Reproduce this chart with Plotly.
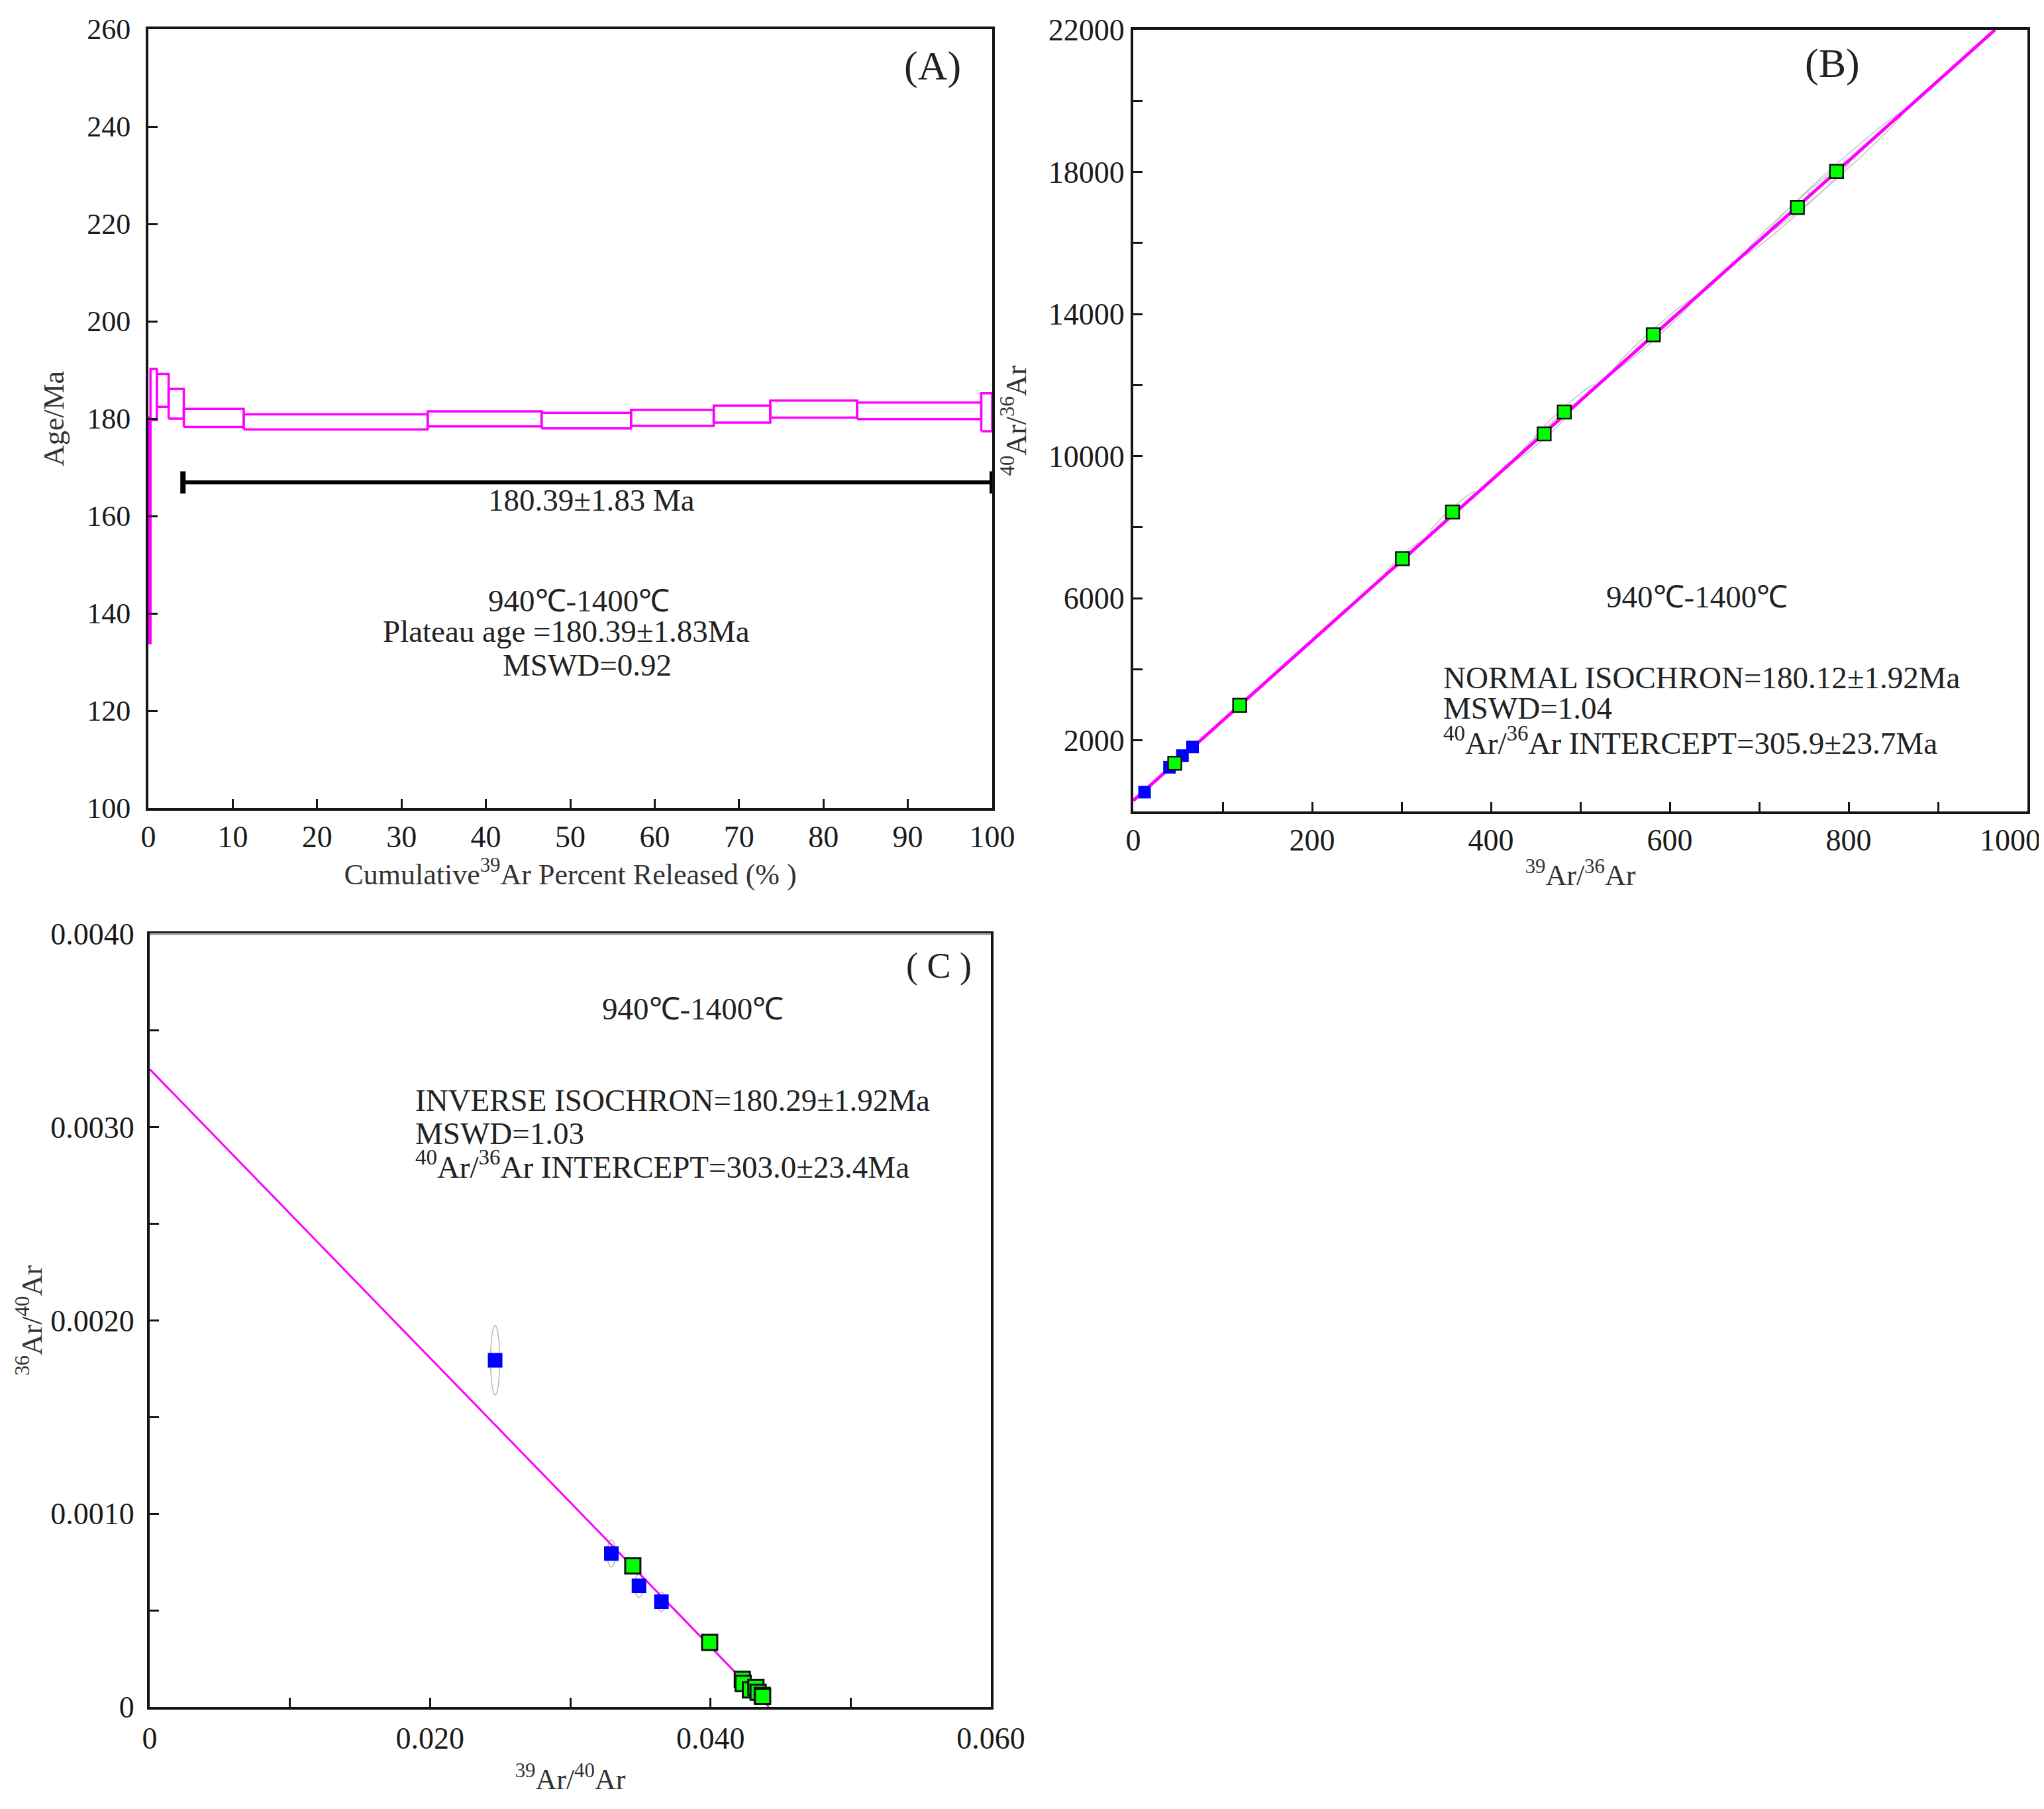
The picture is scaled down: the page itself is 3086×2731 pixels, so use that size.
import numpy as np
import plotly.graph_objects as go

## figure size, in the reference pixels ##
W = 3086
H = 2731
SERIF = "Liberation Serif"
MAGENTA = "#FF00FF"

## (A) age spectrum: cumulative 39Ar released (%) and 1-sigma age band (Ma) ##
step_start = [0, 0.25, 1.0, 2.4, 4.2, 11.3, 33.1, 46.6, 57.2, 67.0, 73.7, 84.0, 98.7]
step_end = [0.25, 1.0, 2.4, 4.2, 11.3, 33.1, 46.6, 57.2, 67.0, 73.7, 84.0, 98.7, 100]
age_low = [133.9, 179.7, 182.4, 180.0, 178.3, 177.8, 178.4, 178.0, 178.5, 179.2, 180.2, 179.9, 177.4]
age_high = [180.2, 190.2, 189.2, 186.1, 182.0, 180.9, 181.5, 181.2, 181.8, 182.7, 183.7, 183.3, 185.2]
plateau_x = [4.1, 100]
plateau_y = [166.9, 166.9]
a_xticks = [0, 10, 20, 30, 40, 50, 60, 70, 80, 90, 100]
a_yticks = [100, 120, 140, 160, 180, 200, 220, 240, 260]

## (B) normal isochron: 39Ar/36Ar vs 40Ar/36Ar ##
b_green_x = [46.4, 119, 301, 357, 459.5, 482, 581.6, 742.7, 786.5]
b_green_y = [1357, 2986, 7114, 8429, 10629, 11243, 13414, 17000, 18014]
b_blue_x = [12.6, 40.5, 55, 66.3]
b_blue_y = [543, 1243, 1571, 1814]
b_ell_rx = [5, 9, 20, 25, 32, 34, 45, 60, 75]          # error ellipse half width (x)
b_ell_ry = [60, 80, 110, 120, 140, 140, 160, 190, 210]  # error ellipse thickness (y)
b_intercept = 305.9
b_slope = 22.51
b_xticks = [0, 100, 200, 300, 400, 500, 600, 700, 800, 900, 1000]
b_xtext = ["0", "", "200", "", "400", "", "600", "", "800", "", ""]
b_last_xlabel = "1000"   # sits pulled in from the figure edge, drawn separately
b_yticks = [2000, 4000, 6000, 8000, 10000, 12000, 14000, 16000, 18000, 20000, 22000]
b_ytext = ["2000", "", "6000", "", "10000", "", "14000", "", "18000", "", "22000"]

## (C) inverse isochron: 39Ar/40Ar vs 36Ar/40Ar ##
c_blue_x = [0.02464, 0.03293, 0.0349, 0.0365]
c_blue_y = [0.001794, 0.000794, 0.000627, 0.000545]
c_blue_rx = [0.00033, 0.0003, 0.0003, 0.0003]
c_blue_ry = [0.00018, 0.00007, 0.00006, 0.00005]
c_green_x = [0.03446, 0.03994, 0.04227, 0.04233, 0.04285, 0.04324, 0.04340, 0.04369, 0.04372]
c_green_y = [0.000730, 0.000334, 0.000143, 0.000122, 0.000088, 0.000100, 0.000076, 0.000060, 0.000055]
c_y_intercept = 1 / 303.0
c_x_intercept = 0.04417
c_xticks = [0, 0.01, 0.02, 0.03, 0.04, 0.05, 0.06]
c_xtext = ["0", "", "0.020", "", "0.040", "", "0.060"]
c_yticks = [0, 0.0005, 0.001, 0.0015, 0.002, 0.0025, 0.003, 0.0035, 0.004]
c_ytext = ["0", "", "0.0010", "", "0.0020", "", "0.0030", "", "0.0040"]


def ellipse(cx, cy, rx, ry, k=0.0):
    t = np.linspace(0, 2 * np.pi, 80)
    return cx + rx * np.cos(t), cy + k * rx * np.cos(t) + ry * np.sin(t)


def dom(a, b, total, flip=False):
    if flip:
        return [1 - b / total, 1 - a / total]
    return [a / total, b / total]


def axis_style(tick_size=46, **kw):
    d = dict(showline=True, linecolor="#151515", linewidth=4, mirror=True,
             ticks="inside", ticklen=14, tickwidth=3, tickcolor="#151515",
             showgrid=False, zeroline=False, automargin=False,
             tickfont=dict(family=SERIF, size=tick_size, color="#1a1a1a"),
             title_font=dict(family=SERIF, size=44, color="#333333"))
    d.update(kw)
    return d


fig = go.Figure()

## panel A ##
for x0, x1, lo, hi in zip(step_start, step_end, age_low, age_high):
    fig.add_trace(go.Scatter(x=[x0, x1, x1, x0, x0], y=[lo, lo, hi, hi, lo], mode="lines",
                             line=dict(color=MAGENTA, width=3.5), xaxis="x", yaxis="y"))
fig.add_trace(go.Scatter(x=plateau_x, y=plateau_y, mode="lines+markers",
                         line=dict(color="black", width=6),
                         marker=dict(symbol="line-ns", size=24, line=dict(color="black", width=8)),
                         xaxis="x", yaxis="y"))

## panel B ##
for cx, cy, rx, ry in zip(b_green_x, b_green_y, b_ell_rx, b_ell_ry):
    ex, ey = ellipse(cx, cy, rx, ry, b_slope * 0.99)
    fig.add_trace(go.Scatter(x=ex, y=ey, mode="lines", line=dict(color="#c4c4c4", width=1.5),
                             xaxis="x2", yaxis="y2"))
b_line_x = [0, (22000 - b_intercept) / b_slope]
fig.add_trace(go.Scatter(x=b_line_x, y=[b_intercept + b_slope * v for v in b_line_x], mode="lines",
                         line=dict(color=MAGENTA, width=5), xaxis="x2", yaxis="y2"))
fig.add_trace(go.Scatter(x=b_blue_x, y=b_blue_y, mode="markers",
                         marker=dict(symbol="square", size=19, color="#0000FF"),
                         xaxis="x2", yaxis="y2"))
fig.add_trace(go.Scatter(x=b_green_x, y=b_green_y, mode="markers",
                         marker=dict(symbol="square", size=20, color="#00FF00",
                                     line=dict(color="#111111", width=2.5)),
                         xaxis="x2", yaxis="y2"))

## panel C ##
for cx, cy, rx, ry in zip(c_blue_x, c_blue_y, c_blue_rx, c_blue_ry):
    ex, ey = ellipse(cx, cy, rx, ry)
    fig.add_trace(go.Scatter(x=ex, y=ey, mode="lines", line=dict(color="#b8b8b8", width=1.5),
                             xaxis="x3", yaxis="y3"))
fig.add_trace(go.Scatter(x=[0, c_x_intercept], y=[c_y_intercept, 0], mode="lines",
                         line=dict(color=MAGENTA, width=3), xaxis="x3", yaxis="y3"))
fig.add_trace(go.Scatter(x=c_blue_x, y=c_blue_y, mode="markers",
                         marker=dict(symbol="square", size=22, color="#0000FF"),
                         xaxis="x3", yaxis="y3"))
fig.add_trace(go.Scatter(x=c_green_x, y=c_green_y, mode="markers",
                         marker=dict(symbol="square", size=23, color="#00FF00",
                                     line=dict(color="#111111", width=3)),
                         xaxis="x3", yaxis="y3"))

# C panel top border is drawn thin and grey in the original
fig.add_shape(type="line", xref="x3 domain", yref="y3 domain", x0=0, x1=1, y0=1, y1=1,
              line=dict(color="#9a9a9a", width=3))


def note(text, x, y, ref, size=47, align="center", xanchor="center", **kw):
    fig.add_annotation(text=text, x=x, y=y, xref=ref[0], yref=ref[1], showarrow=False,
                       align=align, xanchor=xanchor, yanchor="middle",
                       font=dict(family=SERIF, size=size, color="#222222"), **kw)


note("(A)", 92.9, 252.5, ("x", "y"), size=62)
note("180.39\u00b11.83 Ma", 52.5, 163.2, ("x", "y"))
note("940\u2103-1400\u2103", 51.0, 142.6, ("x", "y"))
note("Plateau age =180.39\u00b11.83Ma", 49.5, 136.3, ("x", "y"))
note("MSWD=0.92", 52.0, 129.4, ("x", "y"))

note("(B)", 782, 21050, ("x2", "y2"), size=62)
note("940\u2103-1400\u2103", 630, 6050, ("x2", "y2"))
note("NORMAL ISOCHRON=180.12\u00b11.92Ma", 345, 3770, ("x2", "y2"), xanchor="left")
note("MSWD=1.04", 345, 2910, ("x2", "y2"), xanchor="left")
note("<sup>40</sup>Ar/<sup>36</sup>Ar INTERCEPT=305.9\u00b123.7Ma", 345, 1980, ("x2", "y2"), xanchor="left")
fig.add_annotation(text=b_last_xlabel, x=1000, y=0, xref="x2", yref="y2", showarrow=False,
                   xanchor="center", yanchor="top", xshift=-26, yshift=-16,
                   font=dict(family=SERIF, size=46, color="#1a1a1a"))

note("( C )", 0.05627, 0.003835, ("x3", "y3"), size=54)
note("940\u2103-1400\u2103", 0.03874, 0.003612, ("x3", "y3"))
note("INVERSE ISOCHRON=180.29\u00b11.92Ma", 0.01885, 0.003140, ("x3", "y3"), xanchor="left")
note("MSWD=1.03", 0.01885, 0.002967, ("x3", "y3"), xanchor="left")
note("<sup>40</sup>Ar/<sup>36</sup>Ar INTERCEPT=303.0\u00b123.4Ma", 0.01885, 0.002806, ("x3", "y3"), xanchor="left")

fig.update_layout(
    width=W, height=H, autosize=False, showlegend=False,
    margin=dict(l=0, r=0, t=0, b=0),
    paper_bgcolor="white", plot_bgcolor="white",
    xaxis=axis_style(domain=dom(216, 1490, W), anchor="y", range=[0, 100],
                     tickvals=a_xticks, ticklabelstandoff=0,
                     title=dict(text="Cumulative<sup>39</sup>Ar Percent Released (% )", standoff=4)),
    yaxis=axis_style(tick_size=44, domain=dom(36, 1212, H, flip=True), anchor="x", range=[100, 260],
                     tickvals=a_yticks, ticklabelstandoff=14,
                     title=dict(text="Age/Ma", standoff=22)),
    xaxis2=axis_style(domain=dom(1703, 3053, W), anchor="y2", range=[0, 1000],
                      tickvals=b_xticks, ticktext=b_xtext, ticklabelstandoff=0,
                      title=dict(text="<sup>39</sup>Ar/<sup>36</sup>Ar", standoff=13)),
    yaxis2=axis_style(domain=dom(37, 1217, H, flip=True), anchor="x2", range=[0, 22000],
                      tickvals=b_yticks, ticktext=b_ytext, ticklabelstandoff=0,
                      title=dict(text="<sup>40</sup>Ar/<sup>36</sup>Ar", standoff=20)),
    xaxis3=axis_style(domain=dom(218, 1488, W), anchor="y3", range=[0, 0.06],
                      tickvals=c_xticks, ticktext=c_xtext, ticklabelstandoff=4,
                      title=dict(text="<sup>39</sup>Ar/<sup>40</sup>Ar", standoff=22)),
    yaxis3=axis_style(domain=dom(1402, 2569, H, flip=True), anchor="x3", range=[0, 0.004],
                      tickvals=c_yticks, ticktext=c_ytext, ticklabelstandoff=10,
                      title=dict(text="<sup>36</sup>Ar/<sup>40</sup>Ar", standoff=0)),
)

fig.write_html("out.html")
